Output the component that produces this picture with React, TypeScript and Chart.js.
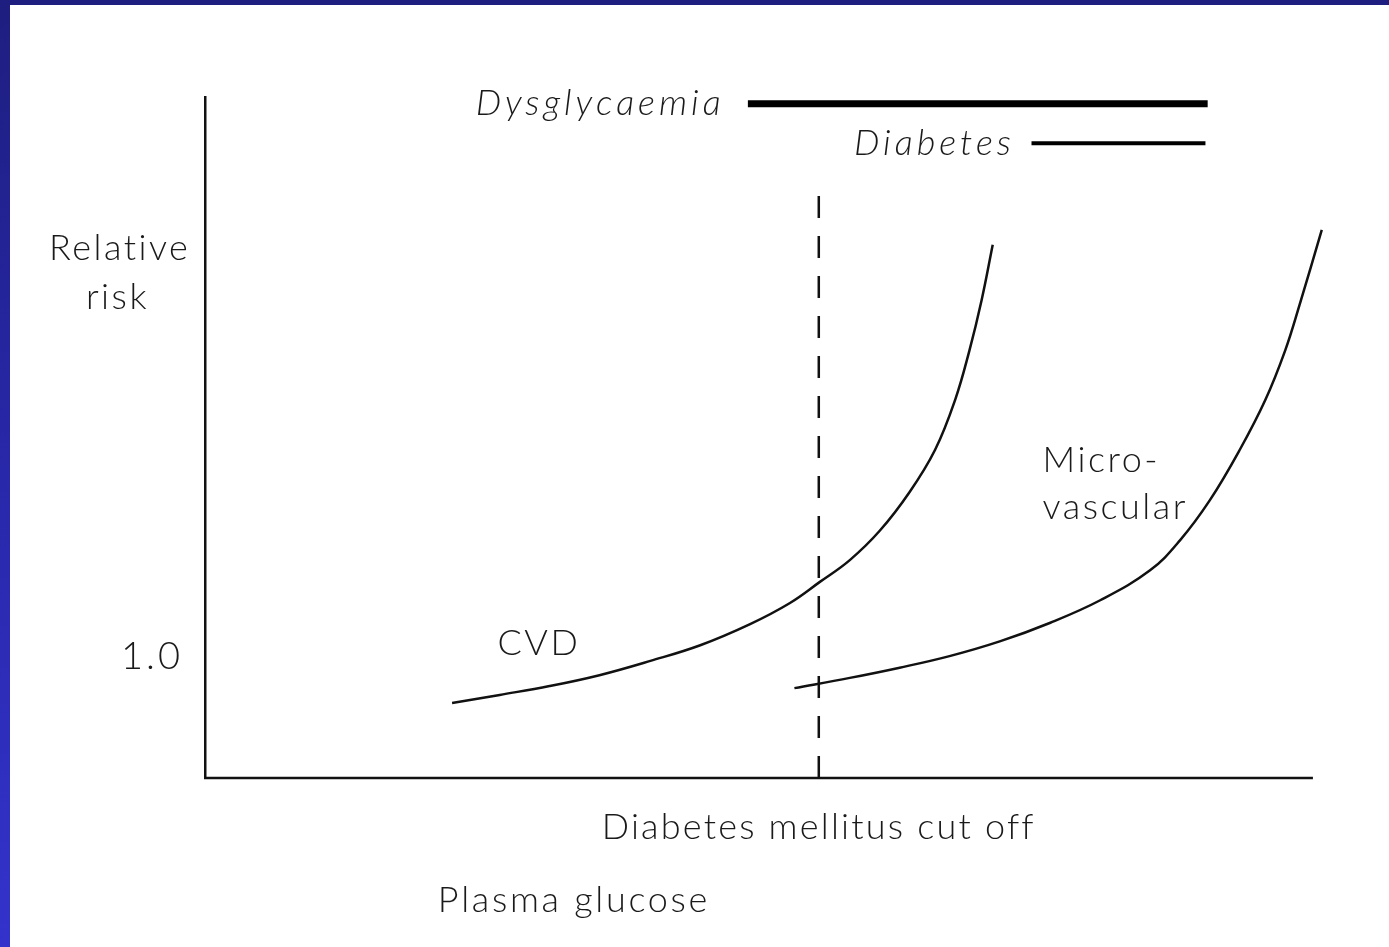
import React, { useEffect, useRef } from "react";
import { Chart, registerables } from "chart.js";

Chart.register(...registerables);

// Curves (x: plasma glucose, arbitrary 0-100; y: relative risk, arbitrary 0-100)
const cvdX = [22.3, 26.6, 31.1, 35.6, 40.2, 44.7, 49.2, 52.8, 55.5, 58.2, 60.9, 63.6, 65.9, 67.7, 69.0, 70.1, 71.1];
const cvdY = [11.0, 12.2, 13.5, 15.1, 17.2, 19.5, 22.6, 25.7, 28.8, 32.0, 36.3, 42.0, 48.2, 55.5, 62.8, 70.2, 78.3];
const microX = [53.2, 58.2, 62.7, 67.2, 71.8, 76.3, 80.8, 85.3, 88.0, 90.7, 93.4, 95.7, 97.5, 98.8, 100.8];
const microY = [13.2, 14.7, 16.2, 17.9, 20.1, 22.8, 26.1, 30.5, 34.9, 40.8, 48.2, 55.5, 62.8, 69.5, 80.5];

// Diabetes mellitus cut off (dashed vertical)
const cutOffX = 55.4;
const cutOffY = [0, 85.6];

// Range bars
const dysglycaemiaRange = [49.0, 90.5];
const dysglycaemiaY = 99.0;
const diabetesRange = [74.6, 90.3];
const diabetesY = 93.2;

// Axis extents (data units)
const xAxisRange = [0, 100];

// Y tick
const yTickValues = [17.8];
const yTickLabels = ["1.0"];

// Text labels
const labelTexts = ["Dysglycaemia", "Diabetes", "Relative", "risk", "CVD", "Micro-", "vascular", "Diabetes mellitus cut off", "Plasma glucose"];
const labelX = [46.9, 73.1, -7.7, -7.9, 26.4, 75.6, 75.6, 55.4, 33.3];
const labelY = [99.0, 93.2, 77.8, 70.6, 19.8, 46.7, 39.8, -7.2, -17.9];
const labelAlign = ["right", "right", "center", "center", "left", "left", "left", "center", "center"];
const labelItalic = [true, true, false, false, false, false, false, false, false];
const labelSpacing = [4, 4, 2.5, 2.5, 2.5, 2.5, 2.5, 2.2, 2.7];

const FONT = "Lato, 'DejaVu Sans', sans-serif";

export default function App() {
  const ref = useRef<HTMLCanvasElement | null>(null);

  useEffect(() => {
    document.body.style.margin = "0";
    const canvas = ref.current;
    if (!canvas) return;

    const textPlugin = {
      id: "textLabels",
      beforeDatasetsDraw(chart: any) {
        const ctx = chart.ctx;
        const xs = chart.scales.x;
        const ys = chart.scales.y;
        ctx.save();
        ctx.strokeStyle = "#111";
        ctx.lineWidth = 2.5;
        ctx.beginPath();
        const y0 = ys.getPixelForValue(0);
        ctx.moveTo(xs.getPixelForValue(xAxisRange[0]) - 1, y0);
        ctx.lineTo(xs.getPixelForValue(xAxisRange[1]), y0);
        ctx.stroke();
        ctx.restore();
      },
      afterDatasetsDraw(chart: any) {
        const ctx = chart.ctx;
        const xs = chart.scales.x;
        const ys = chart.scales.y;
        ctx.save();
        ctx.fillStyle = "#1a1a1a";
        ctx.textBaseline = "middle";
        labelTexts.forEach((t, i) => {
          ctx.font = `${labelItalic[i] ? "italic " : ""}300 36px ${FONT}`;
          (ctx as any).letterSpacing = `${labelSpacing[i]}px`;
          ctx.textAlign = labelAlign[i];
          ctx.fillText(t, xs.getPixelForValue(labelX[i]), ys.getPixelForValue(labelY[i]));
        });
        ctx.font = `300 38px ${FONT}`;
        (ctx as any).letterSpacing = "3px";
        ctx.textAlign = "right";
        yTickValues.forEach((v, i) => {
          ctx.fillText(yTickLabels[i], xs.left - 22, ys.getPixelForValue(v));
        });
        ctx.restore();
      },
    };

    const chart = new Chart(canvas, {
      type: "line",
      data: {
        datasets: [
          {
            label: "CVD",
            data: cvdX.map((x, i) => ({ x, y: cvdY[i] })),
            borderColor: "#111",
            borderWidth: 2.5,
            pointRadius: 0,
            tension: 0.4,
            clip: false,
          },
          {
            label: "Microvascular",
            data: microX.map((x, i) => ({ x, y: microY[i] })),
            borderColor: "#111",
            borderWidth: 2.5,
            pointRadius: 0,
            tension: 0.4,
            clip: false,
          },
          {
            label: "Cut off",
            data: cutOffY.map((y) => ({ x: cutOffX, y })),
            borderColor: "#111",
            borderWidth: 2.5,
            borderDash: [22, 18],
            pointRadius: 0,
            clip: false,
          },
          {
            label: "Dysglycaemia",
            data: dysglycaemiaRange.map((x) => ({ x, y: dysglycaemiaY })),
            borderColor: "#000",
            borderWidth: 7,
            borderCapStyle: "butt",
            pointRadius: 0,
            clip: false,
          },
          {
            label: "Diabetes",
            data: diabetesRange.map((x) => ({ x, y: diabetesY })),
            borderColor: "#000",
            borderWidth: 4,
            borderCapStyle: "butt",
            pointRadius: 0,
            clip: false,
          },
        ],
      },
      options: {
        animation: false,
        responsive: false,
        maintainAspectRatio: false,
        layout: { padding: { left: 0, right: 65, top: 92, bottom: 169 } },
        plugins: { legend: { display: false }, tooltip: { enabled: false } },
        scales: {
          x: {
            type: "linear",
            min: 0,
            max: 101,
            grid: { display: false, drawTicks: false },
            border: { display: false },
            ticks: { display: false },
            afterFit: (s: any) => {
              s.height = 0;
            },
          },
          y: {
            type: "linear",
            min: 0,
            max: 100,
            grid: { display: false, drawTicks: false },
            border: { display: true, color: "#111", width: 2.5 },
            ticks: { display: false },
            afterFit: (s: any) => {
              s.width = 195;
            },
          },
        },
      },
      plugins: [textPlugin],
    } as any);

    return () => chart.destroy();
  }, []);

  return (
    <div
      style={{
        position: "absolute",
        left: 0,
        top: 0,
        width: 1389,
        height: 947,
        background: "linear-gradient(to bottom, #1e1e80 0%, #2828aa 50%, #3333cc 100%)",
      }}
    >
      <canvas
        ref={ref}
        width={1379}
        height={942}
        style={{ position: "absolute", left: 10, top: 5, width: 1379, height: 942, background: "#fff" }}
      />
    </div>
  );
}
